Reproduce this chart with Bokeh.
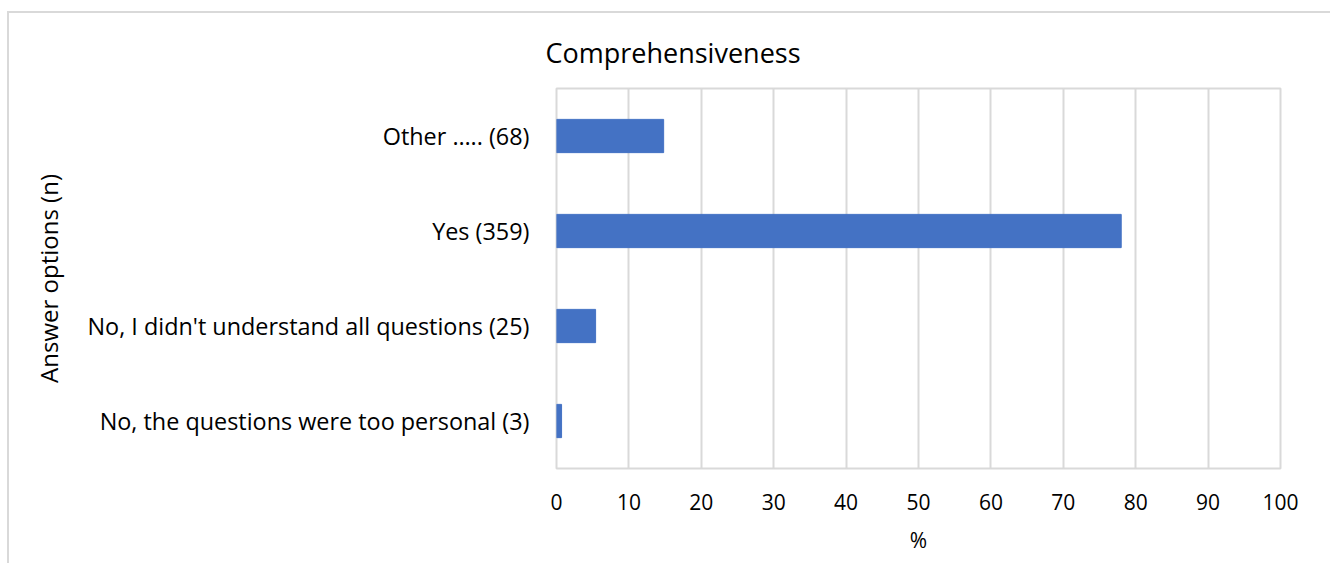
from bokeh.plotting import figure
from bokeh.models import Range1d, FactorRange, FixedTicker
from bokeh.embed import file_html
from bokeh.resources import INLINE

# ---- data ----
categories = [
    "No, the questions were too personal (3)",
    "No, I didn't understand all questions (25)",
    "Yes (359)",
    "Other ….. (68)",
]
percent = [0.7, 5.4, 78.0, 14.8]
x_ticks = [0, 10, 20, 30, 40, 50, 60, 70, 80, 90, 100]
title_text = "Comprehensiveness"
x_label = "%"
y_label = "Answer options (n)"

FONT = "Open Sans"
GRID = "#d9d9d9"

p = figure(
    width=1323, height=552,
    y_range=FactorRange(*categories),
    x_range=Range1d(0, 100),
    output_backend="svg", toolbar_location=None,
    min_border_left=547, min_border_right=52,
    min_border_top=75, min_border_bottom=97,
    title=title_text,
)
p.margin = (11, 0, 0, 7)
p.styles = {"border-left": "2px solid #d9d9d9", "border-top": "2px solid #d9d9d9"}

p.hbar(y=categories, right=percent, left=0, height=0.35, color="#4472c4")

p.title.text_font = FONT
p.title.text_font_size = "27px"
p.title.text_font_style = "normal"
p.title.text_color = "black"
p.title.align = "left"
p.title.offset = -11
p.title.standoff = 35

p.outline_line_color = GRID
p.outline_line_width = 2

p.xgrid.grid_line_color = GRID
p.xgrid.grid_line_width = 2
p.ygrid.grid_line_color = None

p.xaxis.ticker = FixedTicker(ticks=x_ticks)
p.xaxis.axis_line_color = None
p.xaxis.major_tick_line_color = None
p.xaxis.minor_tick_line_color = None
p.xaxis.major_label_standoff = 19
p.xaxis.major_label_text_font = FONT
p.xaxis.major_label_text_font_size = "21px"
p.xaxis.major_label_text_color = "black"
p.xaxis.axis_label = x_label
p.xaxis.axis_label_text_font = FONT
p.xaxis.axis_label_text_font_size = "21px"
p.xaxis.axis_label_text_font_style = "normal"
p.xaxis.axis_label_text_color = "black"
p.xaxis.axis_label_standoff = 13

p.yaxis.axis_line_color = None
p.yaxis.major_tick_line_color = None
p.yaxis.minor_tick_line_color = None
p.yaxis.major_label_standoff = 21
p.yaxis.major_label_text_font = FONT
p.yaxis.major_label_text_font_size = "23.4px"
p.yaxis.major_label_text_color = "black"
p.yaxis.axis_label = y_label
p.yaxis.axis_label_text_font = FONT
p.yaxis.axis_label_text_font_size = "24px"
p.yaxis.axis_label_text_font_style = "normal"
p.yaxis.axis_label_text_color = "black"
p.yaxis.axis_label_standoff = 20

p.background_fill_color = "white"
p.border_fill_color = "white"

open("out.html", "w").write(file_html(p, INLINE))
